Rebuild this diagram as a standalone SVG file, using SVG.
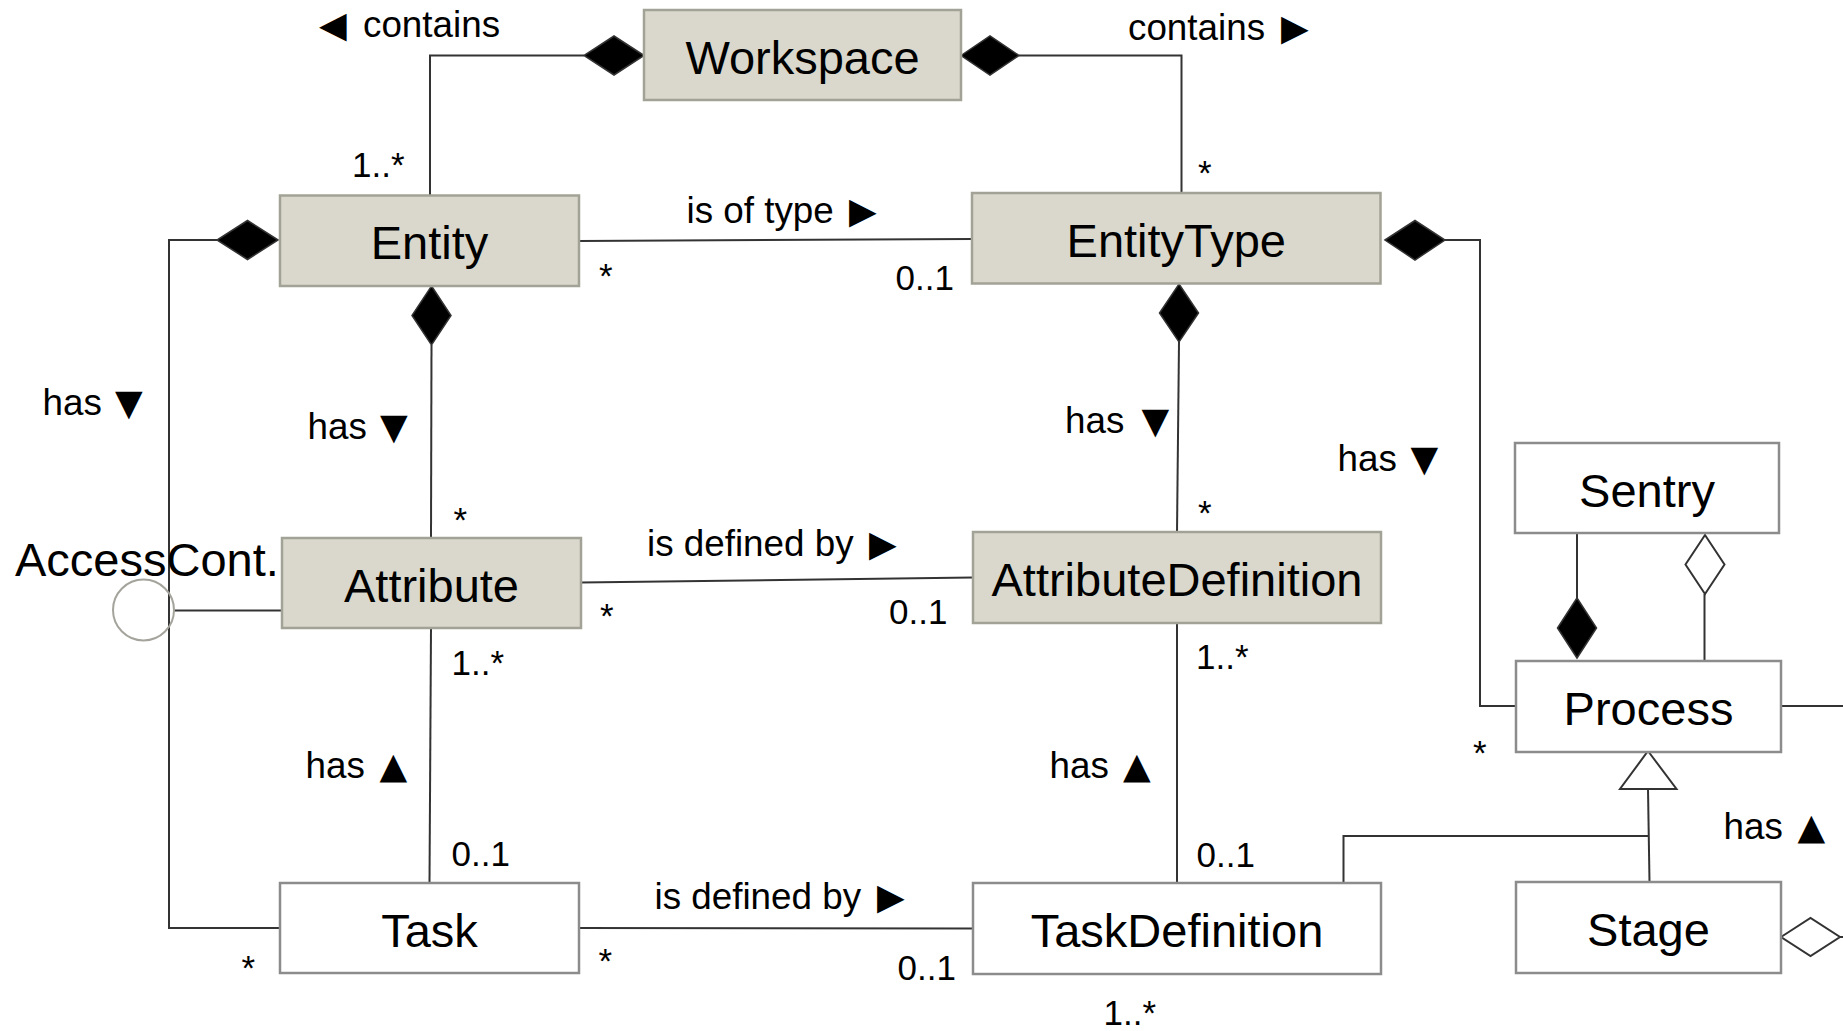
<svg xmlns="http://www.w3.org/2000/svg" width="1843" height="1031" viewBox="0 0 1843 1031">
  <style>
    .cls { fill: #dad8cc; stroke: #a3a296; stroke-width: 2.5; }
    .plain { fill: #ffffff; stroke: #8c8c8c; stroke-width: 2.5; }
    .name { font-family: "Liberation Sans", Arial, sans-serif; font-size: 47px; fill: #000; text-anchor: middle; }
    .lbl { font-family: "Liberation Sans", Arial, sans-serif; font-size: 36.8px; fill: #000; }
    .mul { font-family: "Liberation Sans", Arial, sans-serif; font-size: 35px; fill: #000; }
    .arr { font-family: "DejaVu Sans", sans-serif; font-size: 36px; }
    .ln { fill: none; stroke: #333333; stroke-width: 2; }
    .comp { fill: #000000; stroke: #333333; stroke-width: 1.5; }
    .aggr { fill: #ffffff; stroke: #333333; stroke-width: 2; }
    .gen { fill: #ffffff; stroke: #333333; stroke-width: 2; }
  </style>

  <!-- associations, compositions, aggregations and the generalization -->
  <g id="connectors">
    <!-- Workspace contains Entity -->
    <polyline class="ln" points="584,55.5 430,55.5 430,195"/>
    <polygon class="comp" points="644,55.5 614,36 584,55.5 614,75"/>
    <!-- Workspace contains EntityType -->
    <polyline class="ln" points="1019,55.5 1181.5,55.5 1181.5,193"/>
    <polygon class="comp" points="961,55.5 990,36 1019,55.5 990,75"/>
    <!-- Entity is of type EntityType -->
    <line class="ln" x1="579" y1="241" x2="972" y2="239"/>
    <!-- Entity has Attribute -->
    <line class="ln" x1="431.5" y1="345" x2="431" y2="538"/>
    <polygon class="comp" points="431.5,286 451,315.5 431.5,345 412,315.5"/>
    <!-- EntityType has AttributeDefinition -->
    <line class="ln" x1="1179" y1="342" x2="1177" y2="532"/>
    <polygon class="comp" points="1179,284 1198.5,313 1179,342 1159.5,313"/>
    <!-- Entity has Task -->
    <polyline class="ln" points="217,240 169,240 169,928 280,928"/>
    <polygon class="comp" points="278,240 247.5,220.5 217,240 247.5,259.5"/>
    <!-- Attribute is defined by AttributeDefinition -->
    <line class="ln" x1="581" y1="582.5" x2="973" y2="577.5"/>
    <!-- AccessCont. interface -->
    <line class="ln" x1="174" y1="610.5" x2="282" y2="610.5"/>
    <circle cx="143.5" cy="610" r="30.5" fill="none" stroke="#a5a49c" stroke-width="2"/>
    <!-- Task has Attribute -->
    <line class="ln" x1="431" y1="628" x2="429.5" y2="883"/>
    <!-- TaskDefinition has AttributeDefinition -->
    <line class="ln" x1="1177" y1="623" x2="1177" y2="883"/>
    <!-- Task is defined by TaskDefinition -->
    <line class="ln" x1="579" y1="928" x2="973" y2="928.5"/>
    <!-- EntityType has Process -->
    <polyline class="ln" points="1445,240 1480,240 1480,706 1516,706"/>
    <polygon class="comp" points="1385,240 1415,220.5 1445,240 1415,260"/>
    <!-- Sentry / Process -->
    <line class="ln" x1="1577" y1="533" x2="1577" y2="598"/>
    <polygon class="comp" points="1577,598 1596.5,628 1577,658 1557.5,628"/>
    <line class="ln" x1="1704.5" y1="594" x2="1704.5" y2="661"/>
    <polygon class="aggr" points="1705,535 1724.5,564.5 1705,594 1685.5,564.5"/>
    <!-- Process continues right -->
    <line class="ln" x1="1781" y1="706" x2="1843" y2="706"/>
    <!-- Stage and TaskDefinition specialize Process -->
    <line class="ln" x1="1648" y1="789" x2="1649.5" y2="882"/>
    <polyline class="ln" points="1343.5,883 1343.5,836 1648,836"/>
    <polygon class="gen" points="1648,751 1676.5,789 1620,789"/>
    <!-- Stage aggregation -->
    <line class="ln" x1="1840" y1="937" x2="1843" y2="937"/>
    <polygon class="aggr" points="1781,937 1810.5,918 1840,937 1810.5,956"/>
  </g>

  <!-- classes -->
  <g id="workspace">
    <rect class="cls" x="644" y="10" width="317" height="90"/>
    <text class="name" x="802.5" y="74">Workspace</text>
  </g>
  <g id="entity">
    <rect class="cls" x="280" y="195.5" width="299" height="90.5"/>
    <text class="name" x="429.5" y="259">Entity</text>
  </g>
  <g id="entity-type">
    <rect class="cls" x="972" y="193" width="408.5" height="90.5"/>
    <text class="name" x="1176.3" y="257">EntityType</text>
  </g>
  <g id="attribute">
    <rect class="cls" x="282" y="538" width="299" height="90"/>
    <text class="name" x="431.5" y="601.5">Attribute</text>
  </g>
  <g id="attribute-definition">
    <rect class="cls" x="973" y="532" width="408" height="91"/>
    <text class="name" x="1177" y="596">AttributeDefinition</text>
  </g>
  <g id="task">
    <rect class="plain" x="280" y="883" width="299" height="90"/>
    <text class="name" x="429.5" y="946.5">Task</text>
  </g>
  <g id="task-definition">
    <rect class="plain" x="973" y="883" width="408" height="91"/>
    <text class="name" x="1177" y="947">TaskDefinition</text>
  </g>
  <g id="sentry">
    <rect class="plain" x="1515" y="443" width="264" height="90"/>
    <text class="name" x="1647" y="506.5">Sentry</text>
  </g>
  <g id="process">
    <rect class="plain" x="1516" y="661" width="265" height="91"/>
    <text class="name" x="1648.5" y="725">Process</text>
  </g>
  <g id="stage">
    <rect class="plain" x="1516" y="882" width="265" height="91"/>
    <text class="name" x="1648.5" y="946">Stage</text>
  </g>
  <g id="access-control">
    <text class="name" x="15" y="576" style="text-anchor:start">AccessCont.</text>
  </g>

  <!-- role names -->
  <g id="labels">
    <text class="lbl" x="319" y="37"><tspan class="arr">◀</tspan><tspan x="363">contains</tspan></text>
    <text class="lbl" x="1128" y="40">contains <tspan class="arr" x="1281">▶</tspan></text>
    <text class="lbl" x="686.5" y="223">is of type <tspan class="arr" x="849">▶</tspan></text>
    <text class="lbl" x="42.5" y="415">has <tspan class="arr" x="115">▼</tspan></text>
    <text class="lbl" x="307.5" y="439">has <tspan class="arr" x="380">▼</tspan></text>
    <text class="lbl" x="1065" y="433">has <tspan class="arr" x="1141.5">▼</tspan></text>
    <text class="lbl" x="1337.5" y="471">has <tspan class="arr" x="1410.5">▼</tspan></text>
    <text class="lbl" x="647" y="556">is defined by <tspan class="arr" x="869">▶</tspan></text>
    <text class="lbl" x="305.5" y="778">has <tspan class="arr" x="379.5">▲</tspan></text>
    <text class="lbl" x="1049.5" y="778">has <tspan class="arr" x="1123">▲</tspan></text>
    <text class="lbl" x="1723.5" y="839">has <tspan class="arr" x="1797.5">▲</tspan></text>
    <text class="lbl" x="654.5" y="909">is defined by <tspan class="arr" x="877">▶</tspan></text>
  </g>

  <!-- multiplicities -->
  <g id="multiplicities">
    <text class="mul" x="352" y="177">1..*</text>
    <text class="mul" x="1198" y="185">*</text>
    <text class="mul" x="599" y="288">*</text>
    <text class="mul" x="895.5" y="290">0..1</text>
    <text class="mul" x="453.5" y="532">*</text>
    <text class="mul" x="1198" y="525">*</text>
    <text class="mul" x="600" y="628">*</text>
    <text class="mul" x="889" y="623.5">0..1</text>
    <text class="mul" x="451.5" y="675">1..*</text>
    <text class="mul" x="1196" y="669">1..*</text>
    <text class="mul" x="1473" y="765">*</text>
    <text class="mul" x="451.5" y="866">0..1</text>
    <text class="mul" x="1196.5" y="867">0..1</text>
    <text class="mul" x="598.5" y="973">*</text>
    <text class="mul" x="897.5" y="980">0..1</text>
    <text class="mul" x="241.5" y="980">*</text>
    <text class="mul" x="1103.5" y="1025">1..*</text>
  </g>
</svg>
